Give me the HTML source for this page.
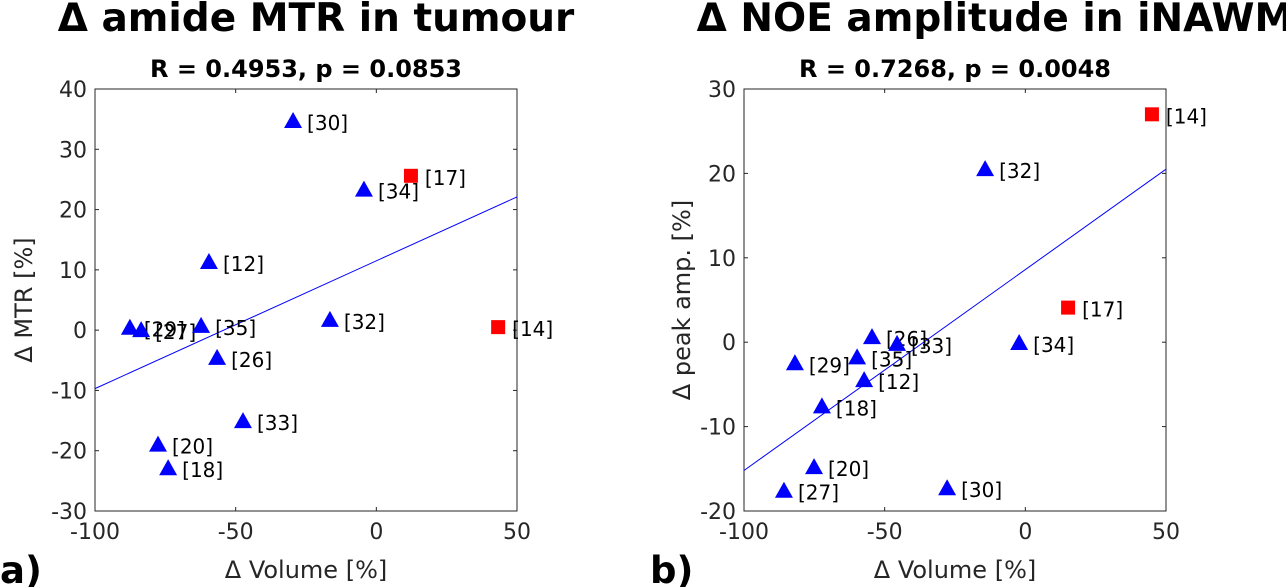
<!DOCTYPE html>
<html><head><meta charset="utf-8"><style>
body{margin:0;background:#fff;}
svg{display:block;font-family:"DejaVu Sans","Liberation Sans",sans-serif;}
</style></head><body>
<svg id="s" width="1286" height="587" xmlns="http://www.w3.org/2000/svg"></svg>
<script>
const NS="http://www.w3.org/2000/svg";
const labelsA=["30","17","34","12","29","27","35","32","14","26","33","20","18"];
const xA=[-29.6,12.3,-4.4,-59.5,-87.6,-83.6,-62.3,-16.5,43.3,-56.6,-47.4,-77.6,-74];
const yA=[34.7,25.6,23.3,11.3,0.4,0.0,0.7,1.7,0.5,-4.6,-15.1,-19,-22.9];
const sqA=[0,1,0,0,0,0,0,0,1,0,0,0,0];
const fitA=[-9.7,22.1];
const labelsB=["14","32","17","34","26","33","35","29","12","18","20","27","30"];
const xB=[45,-14.3,15.2,-2.2,-54.5,-45.6,-59.8,-81.9,-57.3,-72.3,-75.1,-85.8,-27.8];
const yB=[27,20.5,4.1,-0.1,0.6,-0.2,-1.8,-2.5,-4.5,-7.6,-14.8,-17.6,-17.3];
const sqB=[1,0,1,0,0,0,0,0,0,0,0,0,0];
const fitB=[-15.2,20.5];
const xTicks=[-100,-50,0,50];
const yTicksA=[-30,-20,-10,0,10,20,30,40];
const yTicksB=[-20,-10,0,10,20,30];
const svg=document.getElementById('s');
function el(t,a,txt,p){const e=document.createElementNS(NS,t);for(const k in a)e.setAttribute(k,a[k]);if(txt!==undefined)e.textContent=txt;(p||svg).appendChild(e);return e;}
function panel(o){
 const g=el('g',{});
 
 
 const L=o.x0,R=o.x0+422,T=89,B=511;
 const sx=v=>L+(v+100)/150*(R-L);
 const sy=v=>B-(v-o.ymin)/(o.ymax-o.ymin)*(B-T);
 let t=el('text',{x:(L+R)/2+o.tdx,y:31,'font-size':39,'font-weight':'bold','text-anchor':'middle',fill:'#000'},o.title,g);
 
 t=el('text',{x:(L+R)/2,y:77,'font-size':24,'font-weight':'bold','text-anchor':'middle',fill:'#000'},o.sub,g);
 
 const ax=el('rect',{x:L,y:T,width:R-L,height:B-T,fill:'#fff',stroke:'#262626','stroke-width':1},undefined,g);
 
 xTicks.forEach(v=>{const x=sx(v);el('line',{x1:x,x2:x,y1:B,y2:B-4,stroke:'#262626'},undefined,g);el('line',{x1:x,x2:x,y1:T,y2:T+4,stroke:'#262626'},undefined,g);
  const tt=el('text',{x:x,y:B+28,'font-size':22,'text-anchor':'middle',fill:'#262626'},String(v),g);
  });
 o.yt.forEach(v=>{const y=sy(v);el('line',{x1:L,x2:L+4,y1:y,y2:y,stroke:'#262626'},undefined,g);el('line',{x1:R,x2:R-4,y1:y,y2:y,stroke:'#262626'},undefined,g);
  const tt=el('text',{x:L-8,y:y+8,'font-size':22,'text-anchor':'end',fill:'#262626'},String(v),g);
  });
 t=el('text',{x:(L+R)/2,y:578,'font-size':24,'text-anchor':'middle',fill:'#262626'},'Δ Volume [%]',g);
 
 const cy=(T+B)/2;
 t=el('text',{x:0,y:0,'font-size':24,'text-anchor':'middle',fill:'#262626',transform:`translate(${o.ylx},${cy}) rotate(-90)`},o.ylab,g);
 
 const fl=el('line',{x1:sx(-100),y1:sy(o.fit[0]),x2:sx(50),y2:sy(o.fit[1]),stroke:'#0000ff','stroke-width':1},undefined,g);
 
 o.xs.forEach((xv,i)=>{const x=sx(xv),y=sy(o.ys[i]);let m;
  if(o.sq[i]){m=el('rect',{x:x-7,y:y-7,width:14,height:14,fill:'#ff0000'},undefined,g);}
  else{m=el('polygon',{points:`${x},${y-9} ${x-9},${y+7} ${x+9},${y+7}`,fill:'#0000ff'},undefined,g);}
  
  const lb=el('text',{x:x+14,y:y+9,'font-size':20,fill:'#000'},'['+o.lab[i]+']',g);
  });
 t=el('text',{x:o.px,y:583,'font-size':37,'font-weight':'bold',fill:'#000'},o.panel,g);
 
}
panel({name:'panel-a',x0:95,ymin:-30,ymax:40,yt:yTicksA,xs:xA,ys:yA,sq:sqA,lab:labelsA,fit:fitA,title:'Δ amide MTR in tumour',tdx:10,sub:'R = 0.4953, p = 0.0853',ylab:'Δ MTR [%]',ylx:32,panel:'a)',px:0});
panel({name:'panel-b',x0:744,ymin:-20,ymax:30,yt:yTicksB,xs:xB,ys:yB,sq:sqB,lab:labelsB,fit:fitB,title:'Δ NOE amplitude in iNAWM',tdx:40,sub:'R = 0.7268, p = 0.0048',ylab:'Δ peak amp. [%]',ylx:690,panel:'b)',px:650});
</script>
</body></html>
